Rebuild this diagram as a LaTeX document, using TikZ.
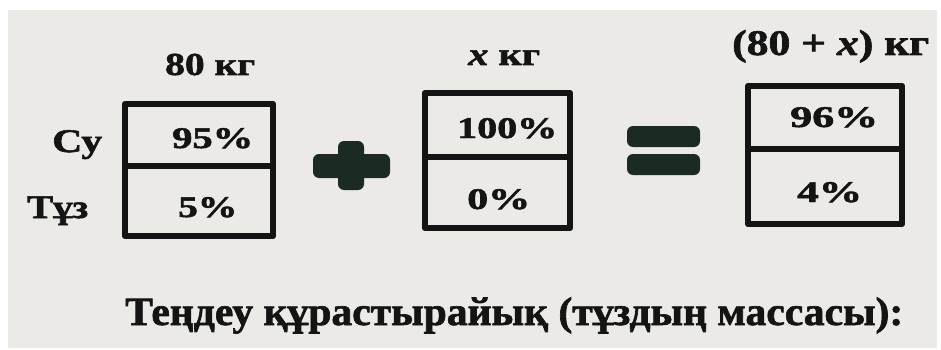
\documentclass[tikz,border=0pt]{standalone}
\usepackage{fontspec}
\setmainfont{Liberation Serif}[BoldFeatures={FakeBold=1.6},BoldItalicFeatures={FakeBold=1.6}]
\usepackage{graphicx}
\definecolor{ink}{HTML}{141414}
\definecolor{paper}{HTML}{ECEAE7}
\definecolor{symc}{HTML}{1C2A24}
\newcommand{\st}[3]{\resizebox{#2pt}{\height}{\fontsize{#1pt}{#1pt}\selectfont\bfseries #3}}
\begin{document}
\begin{tikzpicture}[x=1pt,y=-1pt,
  txt/.style={inner sep=0pt, anchor=base west, text=ink},
  frame/.style={draw=ink, line width=6.5pt, line join=round},
  sym/.style={fill=symc, rounded corners=6pt}]
\useasboundingbox (0,0) rectangle (941,350);
\fill[white] (0,0) rectangle (941,350);
\fill[paper] (8,10) rectangle (937,348);

% headers
\node[txt] (m1) at (165,75) {\st{32}{90}{80 кг}};
\node[txt] (m2) at (468,65) {\st{32}{72}{\textit{x} кг}};
\node[txt] (m3) at (732,55) {\st{36}{197}{(80 + \textit{x}) кг}};

% row labels
\node[txt] (su) at (52,152) {\st{33}{50}{Су}};
\node[txt] (tuz) at (27,218) {\st{33}{61}{Тұз}};

% box 1
\draw[frame] (125,104) rectangle (273,236);
\draw[frame] (125,166) -- (273,166);
\node[txt] (p1a) at (172,148) {\st{30}{81}{95\%}};
\node[txt] (p1b) at (178,217) {\st{30}{59}{5\%}};

% plus
\fill[sym] (313,154) rectangle (390,178);
\fill[sym] (338,141) rectangle (364,190);

% box 2
\draw[frame] (425,93) rectangle (570,228);
\draw[frame] (425,157) -- (570,157);
\node[txt] (p2a) at (457,138) {\st{30}{100}{100\%}};
\node[txt] (p2b) at (467,209) {\st{30}{63}{0\%}};

% equals
\fill[sym] (627,126) rectangle (700,147);
\fill[sym] (627,154) rectangle (700,175);

% box 3
\draw[frame] (748,86) rectangle (902,224);
\draw[frame] (748,149) -- (902,149);
\node[txt] (p3a) at (790,127) {\st{30}{88}{96\%}};
\node[txt] (p3b) at (797,202) {\st{30}{65}{4\%}};

% bottom line
\node[txt] (eq) at (125,325) {\st{40}{778}{Теңдеу құрастырайық (тұздың массасы):}};
\end{tikzpicture}
\end{document}
